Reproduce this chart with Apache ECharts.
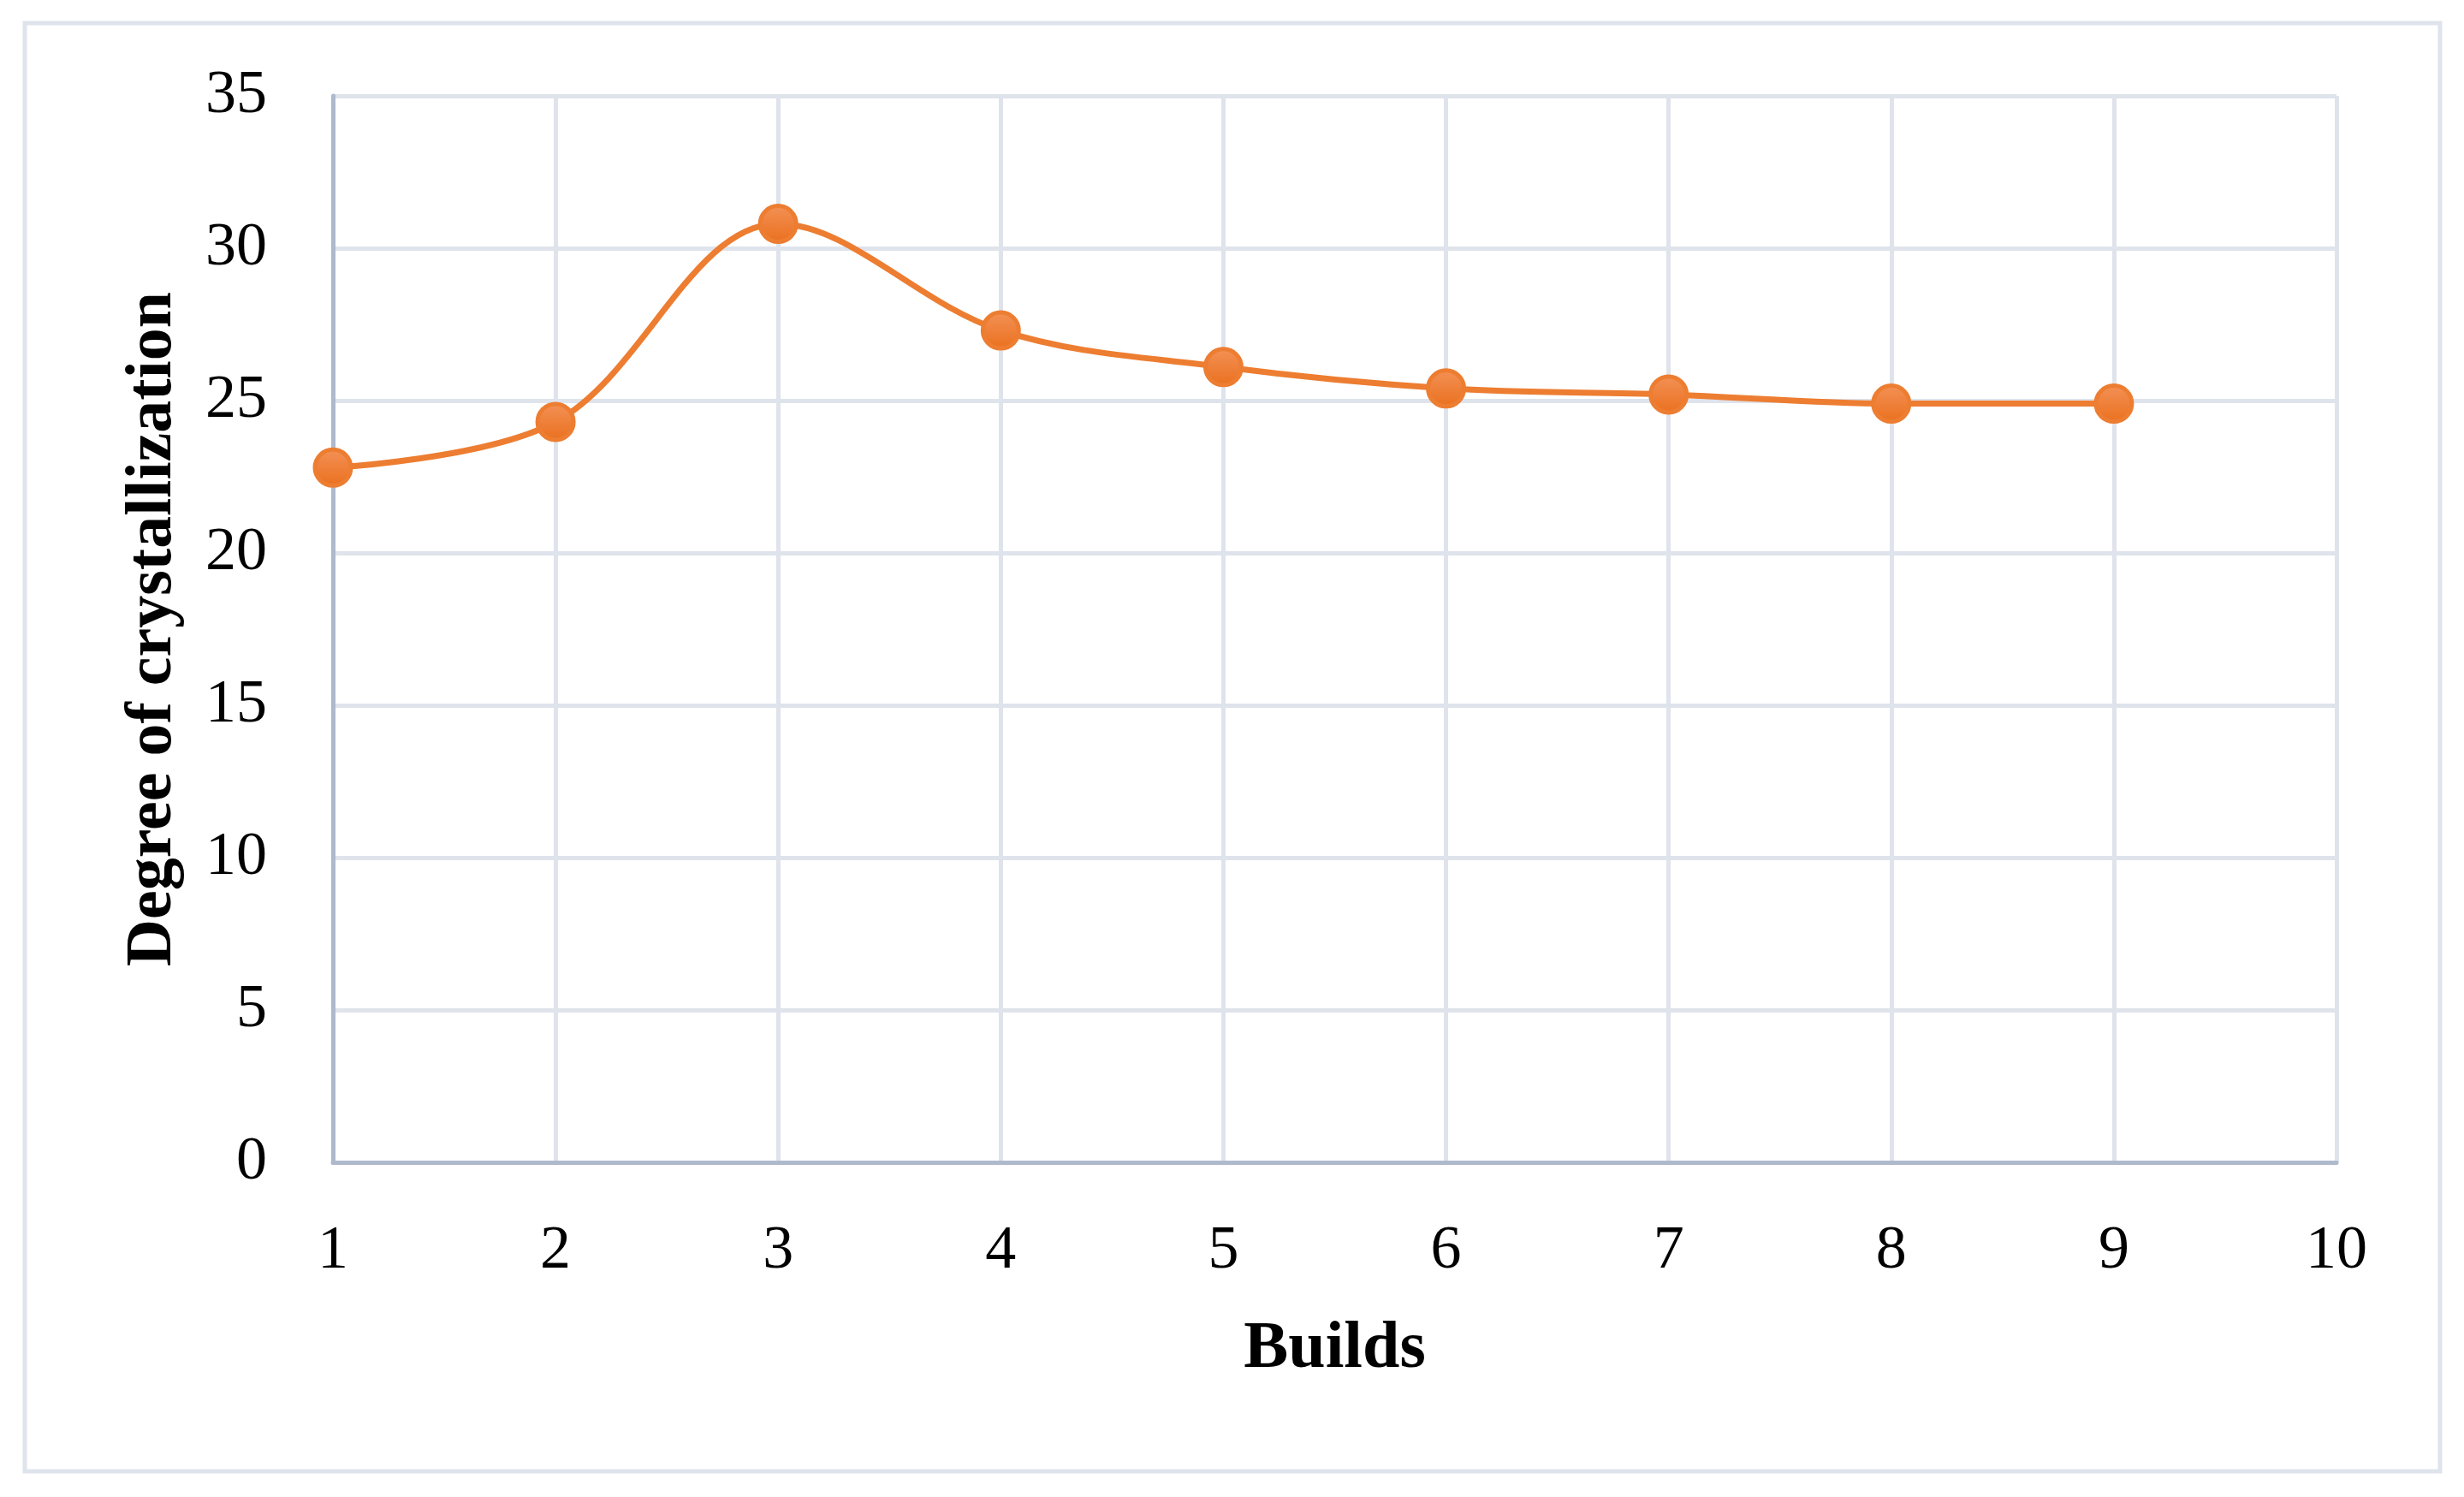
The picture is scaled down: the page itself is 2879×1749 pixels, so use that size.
<!DOCTYPE html>
<html>
<head>
<meta charset="utf-8">
<script src="https://cdn.jsdelivr.net/npm/echarts@6/dist/echarts.min.js"></script>
<style>
html,body{margin:0;padding:0;background:#fff;}
#chart{width:2879px;height:1749px;}
</style>
</head>
<body>
<div id="chart"></div>
<script>
const builds = [1, 2, 3, 4, 5, 6, 7, 8, 9];
const crystallization = [22.8, 24.3, 30.8, 27.3, 26.1, 25.4, 25.2, 24.9, 24.9];
const xTitle = 'Builds';
const yTitle = 'Degree of crystallization';

const chart = echarts.init(document.getElementById('chart'), null, {renderer: 'canvas'});
const font = '"Liberation Serif", "DejaVu Serif", serif';
const orange = '#ED7D31';
const gridColor = '#DFE3EB';
const axisColor = '#AEB9CC';

chart.setOption({
  backgroundColor: '#fff',
  animation: false,
  graphic: [{
    type: 'rect',
    shape: {x: 29, y: 27, width: 2822, height: 1692},
    style: {fill: 'none', stroke: gridColor, lineWidth: 5},
    silent: true
  }],
  grid: {left: 389, right: 149, top: 112, bottom: 391, containLabel: false},
  xAxis: {
    type: 'value', min: 1, max: 10, interval: 1,
    name: xTitle, nameLocation: 'middle', nameGap: 180,
    nameTextStyle: {fontFamily: font, fontSize: 78, fontWeight: 'bold', color: '#000'},
    axisLine: {show: true, lineStyle: {color: axisColor, width: 5}},
    axisTick: {show: false},
    axisLabel: {fontFamily: font, fontSize: 72, color: '#000', margin: 68},
    splitLine: {show: true, lineStyle: {color: gridColor, width: 5}}
  },
  yAxis: {
    type: 'value', min: 0, max: 35, interval: 5,
    name: yTitle, nameLocation: 'middle', nameGap: 172,
    nameTextStyle: {fontFamily: font, fontSize: 76, fontWeight: 'bold', color: '#000'},
    axisLine: {show: true, lineStyle: {color: axisColor, width: 5}},
    axisTick: {show: false},
    axisLabel: {fontFamily: font, fontSize: 72, color: '#000', margin: 77},
    splitLine: {show: true, lineStyle: {color: gridColor, width: 5}}
  },
  series: [{
    type: 'line',
    data: builds.map((b, i) => [b, crystallization[i]]),
    smooth: 0.35,
    symbol: 'circle',
    symbolSize: 42,
    lineStyle: {color: orange, width: 7},
    itemStyle: {
      color: new echarts.graphic.LinearGradient(0, 0, 0, 1, [
        {offset: 0, color: '#F39258'},
        {offset: 1, color: '#EA6F1C'}
      ]),
      borderColor: orange,
      borderWidth: 5
    }
  }]
});
</script>
</body>
</html>
